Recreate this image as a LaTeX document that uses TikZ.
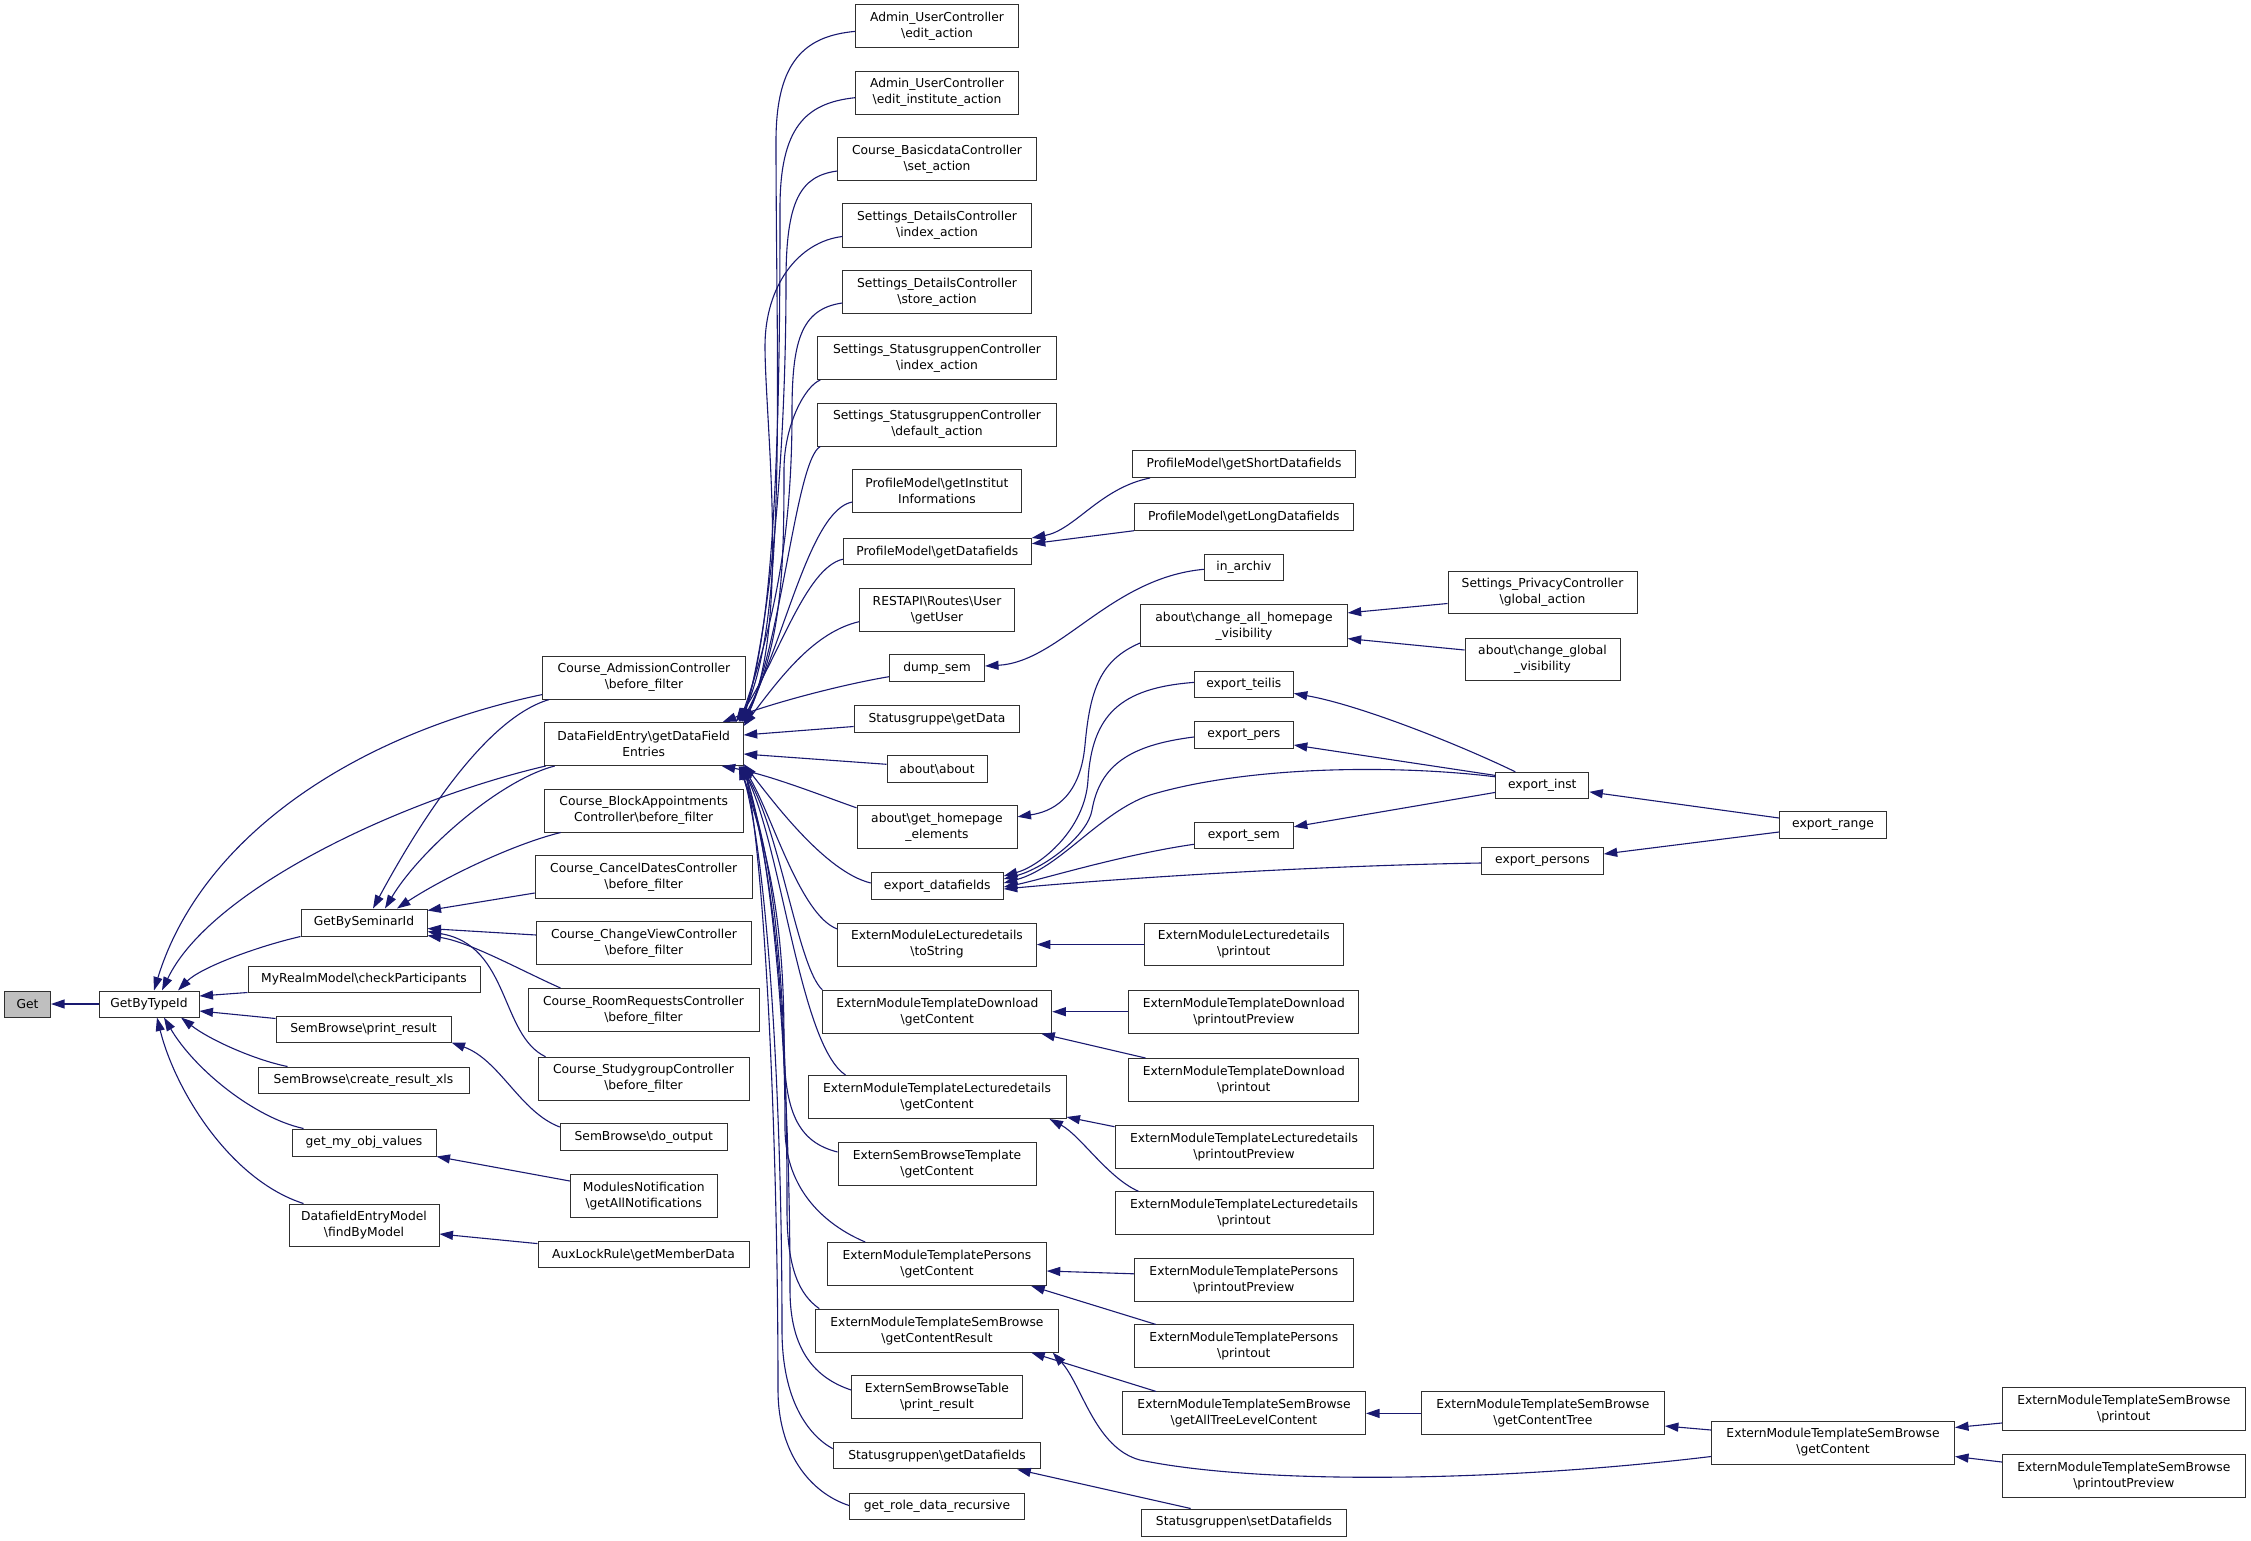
\documentclass[tikz,border=0pt]{standalone}
\usepackage{fontspec}
\setmainfont{DejaVu Sans}
\usetikzlibrary{arrows.meta,calc}
\definecolor{edgec}{RGB}{25,25,112}
\definecolor{boxc}{RGB}{48,48,48}
\definecolor{getc}{RGB}{191,191,191}
\newcommand{\bsl}{\textbackslash}
\newcommand{\bx}[5]{\node[box,minimum width=#4pt,minimum height=#5pt] (#1) at (#2) {#3};}
\begin{document}
\begin{tikzpicture}[x=1pt,y=-1pt,
  box/.style={draw=boxc,line width=1pt,fill=white,inner sep=0pt,align=center,font=\fontsize{12.3}{16}\selectfont},
  conn/.style={draw=edgec,line width=1.1pt,-{Triangle[length=13.5pt,width=9pt]}}]
\fill[white] (0,0) rectangle (2251,1541);
\useasboundingbox (0,0) rectangle (2251,1541);
% column 0-2
\node[box,fill=getc,minimum width=46pt,minimum height=26pt] (get) at (27.5,1004) {Get};
\bx{gbt}{149,1004}{GetByTypeId}{100}{26}
\bx{gbs}{364,922.5}{GetBySeminarId}{126}{27}
\bx{mrm}{364,979}{MyRealmModel\bsl checkParticipants}{232}{26}
\bx{sbpr}{363.5,1029}{SemBrowse\bsl print\_result}{175}{26}
\bx{sbxls}{363.5,1080}{SemBrowse\bsl create\_result\_xls}{211}{26}
\bx{gmov}{364,1142.5}{get\_my\_obj\_values}{144}{27}
\bx{dem}{364,1225}{DatafieldEntryModel\\\bsl findByModel}{150}{42}
% column 3
\bx{cadm}{644,677.6}{Course\_AdmissionController\\\bsl before\_filter}{203}{43}
\bx{dfe}{643.7,744}{DataFieldEntry\bsl getDataField\\Entries}{199}{43}
\bx{cba}{643.7,810.5}{Course\_BlockAppointments\\Controller\bsl before\_filter}{199}{43}
\bx{ccd}{643.7,877}{Course\_CancelDatesController\\\bsl before\_filter}{217}{43}
\bx{ccv}{644,943}{Course\_ChangeViewController\\\bsl before\_filter}{215}{43}
\bx{crr}{643.5,1010}{Course\_RoomRequestsController\\\bsl before\_filter}{231}{43}
\bx{csg}{643.5,1078.7}{Course\_StudygroupController\\\bsl before\_filter}{211}{43}
\bx{sbdo}{643.8,1137}{SemBrowse\bsl do\_output}{167}{27}
\bx{mn}{643.8,1196}{ModulesNotification\\\bsl getAllNotifications}{147}{43}
\bx{aux}{643.5,1254.6}{AuxLockRule\bsl getMemberData}{211}{26}
% column 4
\bx{aue}{937,26.4}{Admin\_UserController\\\bsl edit\_action}{163}{43}
\bx{aui}{937,92.7}{Admin\_UserController\\\bsl edit\_institute\_action}{163}{43}
\bx{cbd}{937,159}{Course\_BasicdataController\\\bsl set\_action}{198.5}{43}
\bx{sdi}{937,225.5}{Settings\_DetailsController\\\bsl index\_action}{188.5}{43}
\bx{sds}{937,292}{Settings\_DetailsController\\\bsl store\_action}{188.5}{43}
\bx{ssi}{937,358}{Settings\_StatusgruppenController\\\bsl index\_action}{238.5}{43}
\bx{ssd}{937,424.5}{Settings\_StatusgruppenController\\\bsl default\_action}{238.5}{43}
\bx{pgi}{937,491}{ProfileModel\bsl getInstitut\\Informations}{168.5}{43}
\bx{pgd}{937.3,551.7}{ProfileModel\bsl getDatafields}{188}{26.5}
\bx{rest}{937,610}{RESTAPI\bsl Routes\bsl User\\\bsl getUser}{155}{43}
\bx{dump}{937,668}{dump\_sem}{95}{26.5}
\bx{sgd}{937,719}{Statusgruppe\bsl getData}{165.7}{26.5}
\bx{about}{937,769}{about\bsl about}{100}{27}
\bx{agh}{937,827.3}{about\bsl get\_homepage\\\_elements}{160}{43}
\bx{expdf}{937.3,886}{export\_datafields}{132}{26.5}
\bx{mlts}{937,944.5}{ExternModuleLecturedetails\\\bsl toString}{198.5}{43}
\bx{mtdg}{937.3,1011.7}{ExternModuleTemplateDownload\\\bsl getContent}{229}{43}
\bx{mtlg}{937,1097}{ExternModuleTemplateLecturedetails\\\bsl getContent}{258}{43}
\bx{sbtg}{937,1164}{ExternSemBrowseTemplate\\\bsl getContent}{198}{43}
\bx{mtpg}{937,1264}{ExternModuleTemplatePersons\\\bsl getContent}{218.5}{43}
\bx{mtsr}{937,1330.6}{ExternModuleTemplateSemBrowse\\\bsl getContentResult}{242.5}{43}
\bx{sbtp}{937,1397}{ExternSemBrowseTable\\\bsl print\_result}{170.7}{43}
\bx{sgdf}{937,1455.7}{Statusgruppen\bsl getDatafields}{207.5}{26.5}
\bx{grdr}{937,1506.5}{get\_role\_data\_recursive}{175}{26.5}
% column 5
\bx{pgs}{1244,464}{ProfileModel\bsl getShortDatafields}{223}{27}
\bx{pgl}{1243.8,517}{ProfileModel\bsl getLongDatafields}{219}{26.5}
\bx{inarch}{1243.8,567.3}{in\_archiv}{79}{26.5}
\bx{acah}{1244,625.9}{about\bsl change\_all\_homepage\\\_visibility}{206.4}{42}
\bx{ete}{1243.8,684.4}{export\_teilis}{99}{26.5}
\bx{epe}{1243.8,735}{export\_pers}{99}{26.5}
\bx{ese}{1243.8,835.3}{export\_sem}{99}{26.5}
\bx{mlpo}{1243.8,944.5}{ExternModuleLecturedetails\\\bsl printout}{199}{42.5}
\bx{mtdpp}{1243.8,1011.7}{ExternModuleTemplateDownload\\\bsl printoutPreview}{229.7}{43}
\bx{mtdp}{1243.8,1080}{ExternModuleTemplateDownload\\\bsl printout}{229.7}{43}
\bx{mtlpp}{1244,1146.7}{ExternModuleTemplateLecturedetails\\\bsl printoutPreview}{258}{43}
\bx{mtlp}{1244,1213.3}{ExternModuleTemplateLecturedetails\\\bsl printout}{258}{43}
\bx{mtppp}{1243.8,1279.8}{ExternModuleTemplatePersons\\\bsl printoutPreview}{219}{43}
\bx{mtpp}{1243.8,1346.4}{ExternModuleTemplatePersons\\\bsl printout}{219}{43}
\bx{mtsat}{1244,1413.4}{ExternModuleTemplateSemBrowse\\\bsl getAllTreeLevelContent}{243}{43}
\bx{sgsd}{1244,1522.5}{Statusgruppen\bsl setDatafields}{205.7}{27}
% column 6-8
\bx{spg}{1542.5,592.5}{Settings\_PrivacyController\\\bsl global\_action}{189}{42.5}
\bx{acgv}{1542.5,659}{about\bsl change\_global\\\_visibility}{155}{42}
\bx{einst}{1542.3,785.4}{export\_inst}{93}{26.2}
\bx{epersons}{1542.5,861}{export\_persons}{121.4}{26.5}
\bx{mtsct}{1542.9,1413.4}{ExternModuleTemplateSemBrowse\\\bsl getContentTree}{243}{43}
\bx{erange}{1833,825}{export\_range}{107}{27}
\bx{mtsgc}{1833,1442.5}{ExternModuleTemplateSemBrowse\\\bsl getContent}{243}{43}
\bx{mtspo}{2123.8,1409}{ExternModuleTemplateSemBrowse\\\bsl printout}{243}{42.3}
\bx{mtsppv}{2123.8,1476}{ExternModuleTemplateSemBrowse\\\bsl printoutPreview}{243}{42.3}
% ---------- edges, left part
\draw[conn] (gbt.west) -- (get.east);
\draw[conn] ($(cadm.south west)+(0,-5)$) .. controls (350,735) and (200,840) .. ($(gbt.north)+(5,0)$);
\draw[conn] ($(dfe.south west)+(2,0)$) .. controls (400,800) and (210,890) .. ($(gbt.north)+(13,0)$);
\draw[conn] (gbs.south west) .. controls (255,947) and (200,968) .. ($(gbt.north)+(29,0)$);
\draw[conn] (mrm.south west) -- ($(gbt.east)+(0,-8)$);
\draw[conn] ($(sbpr.north west)+(0,3)$) -- ($(gbt.east)+(0,7)$);
\draw[conn] ($(sbxls.north west)+(30,0)$) .. controls (255,1060) and (210,1040) .. ($(gbt.south)+(32,0)$);
\draw[conn] ($(gmov.north west)+(12,0)$) .. controls (255,1118) and (195,1070) .. ($(gbt.south)+(15,0)$);
\draw[conn] ($(dem.north west)+(15,0)$) .. controls (230,1180) and (175,1090) .. ($(gbt.south)+(8,0)$);
\draw[conn] ($(cadm.south west)+(7,0)$) .. controls (480,720) and (410,840) .. ($(gbs.north)+(9,0)$);
\draw[conn] ($(dfe.south west)+(11,0)$) .. controls (500,780) and (420,850) .. ($(gbs.north)+(21,0)$);
\draw[conn] ($(cba.south west)+(17,0)$) .. controls (510,845) and (440,880) .. ($(gbs.north)+(33,0)$);
\draw[conn] ($(ccd.west)+(0,16)$) -- ($(gbs.east)+(0,-12)$);
\draw[conn] ($(ccv.west)+(0,-8)$) -- ($(gbs.east)+(0,6)$);
\draw[conn] ($(crr.north west)+(33,0)$) .. controls (520,970) and (470,942) .. ($(gbs.east)+(0,13)$);
\draw[conn] ($(csg.north west)+(8,0)$) .. controls (500,1035) and (510,945) .. ($(gbs.east)+(0,9)$);
\draw[conn] ($(sbdo.west)+(0,-10)$) .. controls (520,1112) and (500,1060) .. (sbpr.south east);
\draw[conn] ($(mn.north west)+(0,7)$) -- (gmov.south east);
\draw[conn] ($(aux.west)+(0,-11)$) -- ($(dem.east)+(0,9)$);
% ---------- callers of DataFieldEntry, from above
\draw[conn] ($(aue.west)+(0,5)$) .. controls (805,36) and (776,61) .. (776,141) .. controls (776,374) and (788,623) .. ($(dfe.north east)+(-5,0)$);
\draw[conn] ($(aui.west)+(0,5)$) .. controls (805,103) and (780,128) .. (780,208) .. controls (780,414) and (776,623) .. ($(dfe.north east)+(-3,0)$);
\draw[conn] ($(cbd.west)+(0,12)$) .. controls (800,176) and (786,201) .. (786,281) .. controls (786,458) and (770,623) .. ($(dfe.north east)+(-1,0)$);
\draw[conn] ($(sdi.west)+(0,11)$) .. controls (798,242) and (765,286) .. (765,346) .. controls (765,420) and (790,623) .. ($(dfe.north east)+(0,2)$);
\draw[conn] ($(sds.west)+(0,11)$) .. controls (800,309) and (792,343) .. (792,413) .. controls (792,537) and (774,623) .. ($(dfe.north east)+(-4,0)$);
\draw[conn] ($(ssi.south west)+(3,0)$) .. controls (805,386) and (784,425) .. (784,470) .. controls (784,570) and (782,640) .. ($(dfe.north east)+(0,1)$);
\draw[conn] ($(ssd.south west)+(3,0)$) .. controls (796,460) and (782,640) .. (dfe.north east);
\draw[conn] ($(pgi.west)+(0,11)$) .. controls (810,510) and (785,640) .. ($(dfe.north east)+(-2,0)$);
\draw[conn] ($(pgd.west)+(0,7.5)$) .. controls (805,568) and (778,660) .. ($(dfe.north east)+(-8,0)$);
\draw[conn] ($(rest.west)+(0,11.7)$) .. controls (815,632) and (782,675) .. ($(dfe.north east)+(0,4)$);
\draw[conn] ($(dump.west)+(0,8.7)$) .. controls (845,684) and (775,702) .. ($(dfe.north east)+(-21,0)$);
\draw[conn] ($(sgd.west)+(0,7.5)$) -- ($(dfe.east)+(0,-9)$);
\draw[conn] ($(about.west)+(0,-4.7)$) -- ($(dfe.east)+(0,10)$);
% ---------- callers of DataFieldEntry, from below
\draw[conn] ($(agh.north west)+(0,2.5)$) .. controls (820,795) and (770,775) .. ($(dfe.south east)+(-22,0)$);
\draw[conn] ($(expdf.west)+(0,-3)$) .. controls (825,872) and (772,800) .. ($(dfe.south east)+(0,-2)$);
\draw[conn] ($(mlts.north west)+(0,6.5)$) .. controls (800,915) and (772,815) .. ($(dfe.south east)+(-1,0)$);
\draw[conn] (mtdg.north west) .. controls (798,968) and (780,830) .. ($(dfe.south east)+(-3,0)$);
\draw[conn] ($(mtlg.north west)+(38,0)$) .. controls (800,1045) and (782,850) .. ($(dfe.south east)+(-2,0)$);
\draw[conn] ($(sbtg.west)+(0,-12)$) .. controls (798,1142) and (784,1112) .. (784,1042) .. controls (784,931) and (772,865) .. ($(dfe.south east)+(-4,0)$);
\draw[conn] ($(mtpg.north west)+(38,0)$) .. controls (825,1225) and (786,1190) .. (785,1130) .. controls (785,980) and (770,865) .. (dfe.south east);
\draw[conn] ($(mtsr.north west)+(4,0)$) .. controls (800,1295) and (787,1270) .. (787,1210) .. controls (787,1030) and (780,865) .. ($(dfe.south east)+(-5,0)$);
\draw[conn] ($(sbtp.west)+(0,-7)$) .. controls (815,1378) and (790,1350) .. (790,1290) .. controls (790,1080) and (775,865) .. ($(dfe.south east)+(-1,0)$);
\draw[conn] ($(sgdf.west)+(0,-7)$) .. controls (808,1435) and (782,1400) .. (782,1330) .. controls (782,1100) and (768,865) .. ($(dfe.south east)+(-3,0)$);
\draw[conn] ($(grdr.west)+(0,-1)$) .. controls (808,1492) and (778,1450) .. (778,1390) .. controls (778,1140) and (765,865) .. ($(dfe.south east)+(0,-1)$);
% ---------- right part
\draw[conn] ($(pgs.south west)+(18,0)$) .. controls (1100,488) and (1075,530) .. (pgd.north east);
\draw[conn] (pgl.south west) -- ($(pgd.east)+(0,-8)$);
\draw[conn] ($(inarch.west)+(0,2)$) .. controls (1110,578) and (1060,662) .. ($(dump.east)+(0,-2)$);
\draw[conn] ($(acah.west)+(0,17)$) .. controls (1100,660) and (1090,690) .. (1085,745) .. controls (1080,800) and (1050,812) .. ($(agh.east)+(0,-10.5)$);
\draw[conn] ($(spg.west)+(0,11)$) -- ($(acah.east)+(0,-13)$);
\draw[conn] ($(acgv.west)+(0,-9)$) -- ($(acah.east)+(0,12.7)$);
\draw[conn] ($(ete.west)+(0,-2)$) .. controls (1120,688) and (1092,715) .. (1088,780) .. controls (1085,830) and (1040,866) .. ($(expdf.east)+(0,-10)$);
\draw[conn] ($(epe.west)+(0,2)$) .. controls (1130,745) and (1100,765) .. (1092,810) .. controls (1088,835) and (1045,868) .. ($(expdf.east)+(0,-7)$);
\draw[conn] ($(einst.north west)+(0,5)$) .. controls (1400,765) and (1250,765) .. (1150,795) .. controls (1100,812) and (1060,868) .. ($(expdf.east)+(0,-3)$);
\draw[conn] ($(ese.west)+(0,9)$) .. controls (1120,855) and (1040,880) .. ($(expdf.east)+(0,1)$);
\draw[conn] ($(epersons.west)+(0,2)$) .. controls (1300,866) and (1100,880) .. ($(expdf.east)+(0,3)$);
\draw[conn] ($(einst.north west)+(20,0)$) .. controls (1460,745) and (1360,705) .. ($(ete.east)+(0,9)$);
\draw[conn] ($(einst.west)+(0,-10)$) -- ($(epe.east)+(0,10)$);
\draw[conn] ($(einst.west)+(0,7)$) -- ($(ese.east)+(0,-8.5)$);
\draw[conn] ($(erange.west)+(0,-7)$) -- ($(einst.east)+(0,6.5)$);
\draw[conn] ($(erange.west)+(0,7)$) -- ($(epersons.east)+(0,-7)$);
\draw[conn] (mlpo.west) -- (mlts.east);
\draw[conn] (mtdpp.west) -- (mtdg.east);
\draw[conn] ($(mtdp.north west)+(17,0)$) -- ($(mtdg.south east)+(-11,0)$);
\draw[conn] ($(mtlpp.west)+(0,-20)$) -- ($(mtlg.east)+(0,20)$);
\draw[conn] ($(mtlp.north west)+(24,0)$) .. controls (1108,1178) and (1080,1135) .. ($(mtlg.south east)+(-17,0)$);
\draw[conn] ($(mtppp.west)+(0,-6)$) -- ($(mtpg.east)+(0,7)$);
\draw[conn] ($(mtpp.north west)+(22,0)$) -- ($(mtpg.south east)+(-15.5,0)$);
\draw[conn] ($(mtsat.north west)+(34,0)$) -- ($(mtsr.south east)+(-27.5,0)$);
\draw[conn] ($(mtsgc.west)+(0,14)$) .. controls (1500,1482) and (1260,1485) .. (1140,1460) .. controls (1095,1448) and (1082,1385) .. ($(mtsr.south east)+(-6,0)$);
\draw[conn] (mtsct.west) -- (mtsat.east);
\draw[conn] ($(mtsgc.west)+(0,-12.5)$) -- ($(mtsct.east)+(0,12.6)$);
\draw[conn] ($(mtspo.west)+(0,14)$) -- ($(mtsgc.east)+(0,-15)$);
\draw[conn] ($(mtsppv.west)+(0,-14)$) -- ($(mtsgc.east)+(0,14)$);
\draw[conn] ($(sgsd.north west)+(50,0)$) -- ($(sgdf.south east)+(-24,0)$);
\end{tikzpicture}
\end{document}
